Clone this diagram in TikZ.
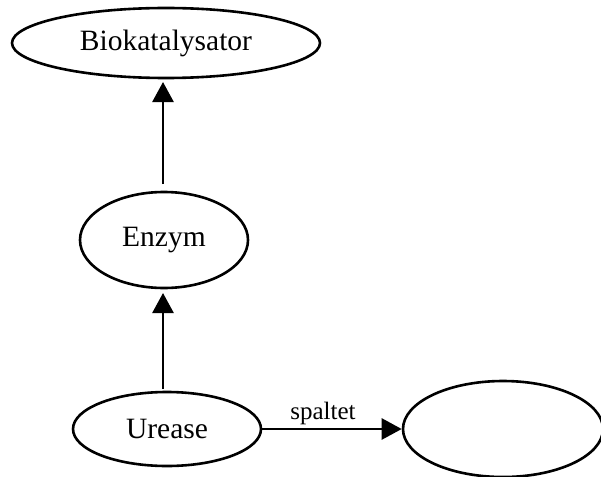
\documentclass[tikz,border=0pt]{standalone}
\usepackage{fontspec}
\setmainfont{Liberation Serif}
\usetikzlibrary{shapes.geometric,arrows.meta}
\begin{document}
\begin{tikzpicture}[x=1pt,y=-1pt,
  ell/.style={draw,ellipse,line width=2.6pt,inner sep=0pt,font=\fontsize{29.5}{34}\selectfont},
  arr/.style={line width=2.6pt,-{Triangle[length=20pt,width=21pt]}},
  lbl/.style={font=\fontsize{25}{29}\selectfont,inner sep=1pt}]
\useasboundingbox (0,0) rectangle (601,476);
\node[ell,minimum width=308pt,minimum height=70pt] (bio) at (166,43) {Biokatalysator};
\node[ell,minimum width=168pt,minimum height=96pt] (enz) at (164,240) {Enzym};
\node[ell,minimum width=188pt,minimum height=74pt] (ure) at (167,429) {Urease};
\node[ell,minimum width=200pt,minimum height=96pt] (tgt) at (503,429) {};
\draw[arr] (163,184) -- (163,82);
\draw[arr] (163,389) -- (163,293);
\draw[arr] (ure) -- node[lbl,above=2pt,xshift=-9pt] {spaltet} (tgt);
\end{tikzpicture}
\end{document}
